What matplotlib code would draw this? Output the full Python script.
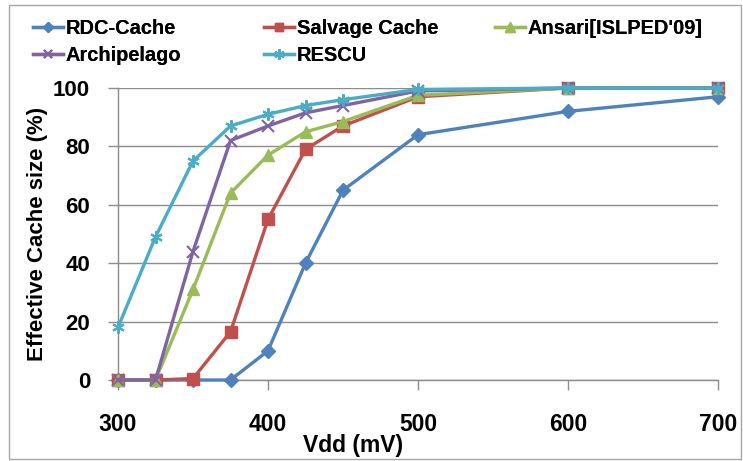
import matplotlib.pyplot as plt
from matplotlib.patches import Rectangle

plt.rcParams.update({
    "font.family": ["Liberation Sans", "DejaVu Sans"],
    "font.weight": "bold",
})

# data
vdd = [300, 325, 350, 375, 400, 425, 450, 500, 600, 700]
rdc_cache = [0, 0, 0, 0, 10, 40, 65, 84, 92, 97]
salvage_cache = [0, 0, 0.5, 16.5, 55, 79, 87, 97, 100, 100]
ansari = [0, 0, 31, 64, 77, 85, 88.5, 97.5, 100, 100]
archipelago = [0, 0, 44, 82, 87, 91.5, 94, 99, 100, 100]
rescu = [18, 49, 75, 87, 91, 94, 96, 99.5, 100, 100]

series = [
    ("RDC-Cache", rdc_cache, "#4F81BD", "D", 7),
    ("Salvage Cache", salvage_cache, "#C0504D", "s", 8),
    ("Ansari[ISLPED'09]", ansari, "#9BBB59", "^", 9),
    ("Archipelago", archipelago, "#8064A2", "x", 8),
    ("RESCU", rescu, "#4BACC6", (6, 2, 0), 9),
]

W, H = 743, 461
fig = plt.figure(figsize=(W / 100, H / 100), dpi=100)
ax = fig.add_axes([118 / W, 1 - 380 / H, 600 / W, 292 / H])

handles = {}
for name, vals, col, mk, ms in series:
    mew = 1.5 if mk in ("x",) or isinstance(mk, tuple) else 1
    ln, = ax.plot(vdd, vals, color=col, lw=2.4, marker=mk, markersize=ms,
                  markeredgewidth=mew, markeredgecolor=col, markerfacecolor=col,
                  clip_on=False, zorder=3)
    handles[name] = ln

ax.set_xlim(300, 700)
ax.set_ylim(0, 100)
ax.set_xticks([300, 400, 500, 600, 700])
ax.set_yticks(range(0, 101, 20))
ax.grid(axis="y", color="#8c8c8c", lw=1)
ax.set_axisbelow(True)
for s in ("top", "right"):
    ax.spines[s].set_visible(False)
for s in ("left", "bottom"):
    ax.spines[s].set_color("#8c8c8c")
    ax.spines[s].set_linewidth(1)
ax.tick_params(axis="x", length=7, width=1, color="#8c8c8c", pad=17, labelsize=16.5)
ax.tick_params(axis="y", length=7, width=1, color="#8c8c8c", pad=13, labelsize=16)
for lb in ax.get_xticklabels() + ax.get_yticklabels():
    lb.set_fontweight("bold")

# x title sits left of centre in the original
fig.text(353 / W, 1 - 445 / H, "Vdd (mV)", ha="center", va="center",
         fontsize=16.5, fontweight="bold")
ax.set_ylabel("Effective Cache size (%)", fontsize=16, fontweight="bold", labelpad=4)

# legend in three columns placed like the original
cols = [(33, ["RDC-Cache", "Archipelago"]),
        (264, ["Salvage Cache", "RESCU"]),
        (495, ["Ansari[ISLPED'09]"])]
for x0, names in cols:
    leg = fig.legend([handles[n] for n in names], names, loc="upper left",
                     bbox_to_anchor=(x0 / W, 1 - 19 / H), frameon=False,
                     borderpad=0, borderaxespad=0, handlelength=1.5,
                     handletextpad=0.15, labelspacing=0.4,
                     prop={"size": 14.4, "weight": "bold"}, markerscale=0.8)
    fig.add_artist(leg)

fig.add_artist(Rectangle((9 / W, 1 - 459 / H), 732 / W, 454 / H,
                         transform=fig.transFigure, fill=False,
                         edgecolor="#a6a6a6", lw=1))

fig.savefig("out.png", dpi=100)
